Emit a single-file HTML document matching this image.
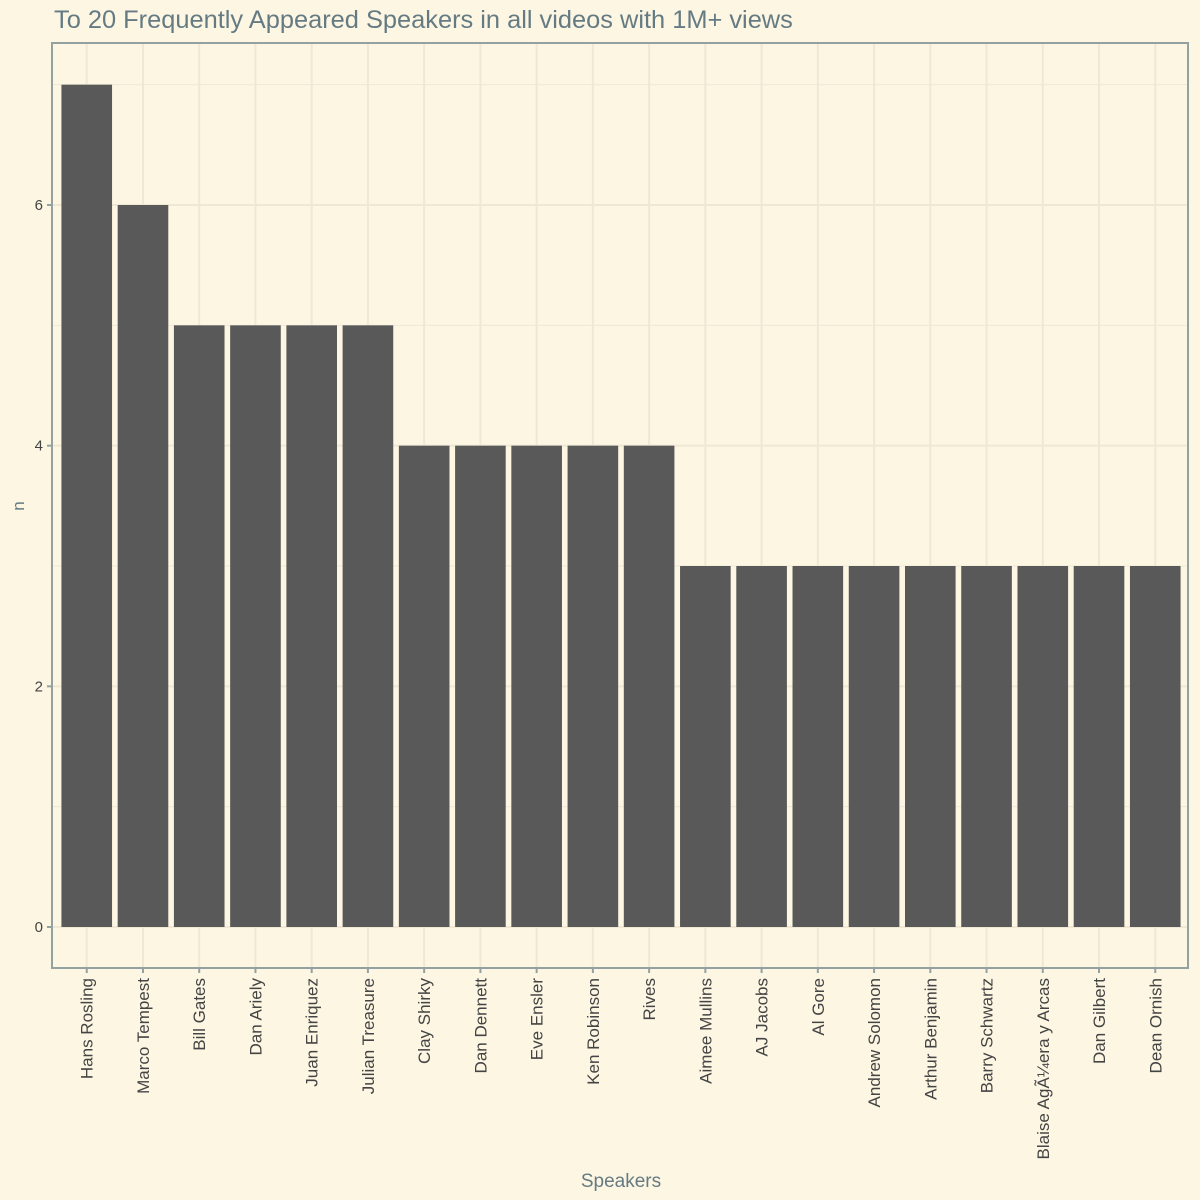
<!DOCTYPE html>
<html><head><meta charset="utf-8"><style>
body{margin:0;background:#fdf6e3;}
svg{display:block;font-family:"Liberation Sans",sans-serif;}
</style></head><body>
<svg id="chart" width="1200" height="1200">
<rect width="1200" height="1200" fill="#fdf6e3"/>
<text x="54" y="28" font-size="25.4" fill="#657b83">To 20 Frequently Appeared Speakers in all videos with 1M+ views</text>
<text x="621" y="1187" font-size="19" fill="#657b83" text-anchor="middle">Speakers</text>
<text x="24" y="506" font-size="17" fill="#657b83" text-anchor="middle" transform="rotate(-90 24 506)">n</text>
<g id="grid"></g><g id="bars"></g><g id="axes"></g>
</svg>
<script>
const categories=["Hans Rosling","Marco Tempest","Bill Gates","Dan Ariely","Juan Enriquez","Julian Treasure","Clay Shirky","Dan Dennett","Eve Ensler","Ken Robinson","Rives","Aimee Mullins","AJ Jacobs","Al Gore","Andrew Solomon","Arthur Benjamin","Barry Schwartz","Blaise AgÃ¼era y Arcas","Dan Gilbert","Dean Ornish"];
const values=[7,6,5,5,5,5,4,4,4,4,4,3,3,3,3,3,3,3,3,3];
const yTicks=[0,2,4,6];
const yMinor=[1,3,5,7];
const L=52,R=1188,T=43,B=968;
const y0=927,unit=(927-205)/6;
const y=v=>y0-v*unit;
const step=(R-L)/(categories.length+0.2);
const x=i=>L+1+step*(0.6+i);
const ns="http://www.w3.org/2000/svg";
function mk(t,a,p){const e=document.createElementNS(ns,t);for(const k in a)e.setAttribute(k,a[k]);p.appendChild(e);return e;}
const g=document.getElementById('grid'),b=document.getElementById('bars'),ax=document.getElementById('axes');
yMinor.forEach(v=>{const e=mk('line',{x1:L,x2:R,y1:y(v),y2:y(v),stroke:'#eee8d5','stroke-width':1},g);

});
yTicks.forEach(v=>{const e=mk('line',{x1:L,x2:R,y1:y(v),y2:y(v),stroke:'#eee8d5','stroke-width':2},g);


const t=mk('line',{x1:L-5,x2:L,y1:y(v),y2:y(v),stroke:'#93a1a1','stroke-width':2},ax);


const l=mk('text',{x:L-9,y:y(v)+5,'font-size':15,fill:'#444','text-anchor':'end'},ax);l.textContent=v;

});
categories.forEach((c,i)=>{const cx=x(i);
const e=mk('line',{x1:cx,x2:cx,y1:T,y2:B,stroke:'#eee8d5','stroke-width':2},g);


const w=step*0.9;
const r=mk('rect',{x:cx-w/2,y:y(values[i]),width:w,height:y0-y(values[i]),fill:'#595959'},b);


const t=mk('line',{x1:cx,x2:cx,y1:B,y2:B+5,stroke:'#93a1a1','stroke-width':2},ax);


const l=mk('text',{x:0,y:0,'font-size':17,fill:'#444','text-anchor':'end',transform:`translate(${cx+6},${B+10}) rotate(-90)`},ax);l.textContent=c;

});
const br=mk('rect',{x:L,y:T,width:R-L,height:B-T,fill:'none',stroke:'#93a1a1','stroke-width':2},ax);


</script>
</body></html>
